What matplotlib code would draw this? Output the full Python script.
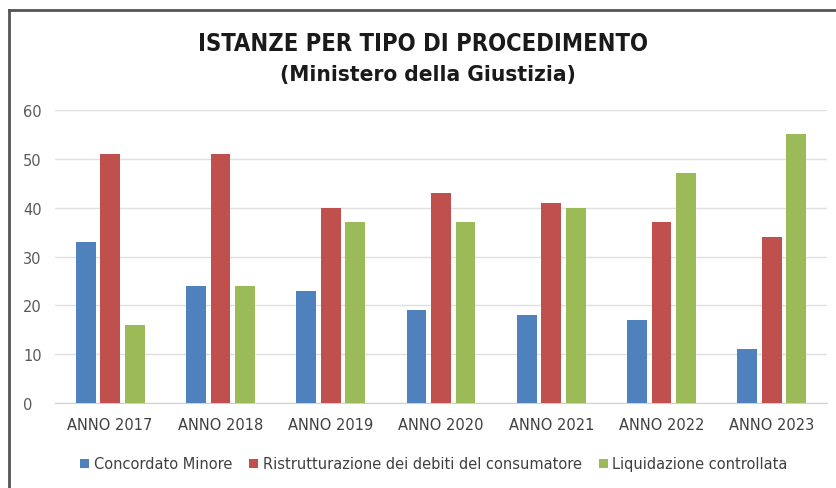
import matplotlib
matplotlib.use("Agg")
import matplotlib.pyplot as plt
import numpy as np
from matplotlib.lines import Line2D

categories = ["ANNO 2017", "ANNO 2018", "ANNO 2019", "ANNO 2020", "ANNO 2021", "ANNO 2022", "ANNO 2023"]
concordato = [33, 24, 23, 19, 18, 17, 11]
ristrutturazione = [51, 51, 40, 43, 41, 37, 34]
liquidazione = [16, 24, 37, 37, 40, 47, 55]
series_names = ["Concordato Minore", "Ristrutturazione dei debiti del consumatore", "Liquidazione controllata"]
yticks = [0, 10, 20, 30, 40, 50, 60]

colors = ["#4f81bd", "#c0504d", "#9bbb59"]

W, H = 836, 489
fig = plt.figure(figsize=(W / 100, H / 100), dpi=100)
ax = fig.add_axes([55 / W, 1 - 404 / H, (827 - 55) / W, (404 - 111) / H])

x = np.arange(len(categories))
width = 0.18
step = 0.222
for i, (vals, name) in enumerate(zip([concordato, ristrutturazione, liquidazione], series_names)):
    ax.bar(x + (i - 1) * step, vals, width, color=colors[i], label=name, zorder=3)

ax.set_ylim(0, 60)
ax.set_xlim(-0.5, len(categories) - 0.5)
ax.set_yticks(yticks)
ax.set_xticks(x)
ax.set_xticklabels(categories)
ax.grid(axis="y", color="#e0e0e0", linewidth=1, zorder=0)
for s in ["top", "right", "left"]:
    ax.spines[s].set_visible(False)
ax.spines["bottom"].set_color("#d0d0d0")
ax.tick_params(axis="both", length=0, colors="#404040", labelsize=10.5)
ax.tick_params(axis="x", pad=10)
ax.tick_params(axis="y", pad=23)
for lab in ax.get_yticklabels():
    lab.set_horizontalalignment("left")
    lab.set_color("#5a5a5a")

fig.text(423 / W, 1 - 44 / H, "ISTANZE PER TIPO DI PROCEDIMENTO", ha="center", va="center",
         fontsize=17, fontweight="bold", color="#1a1a1a", fontstretch="condensed")
fig.text(428 / W, 1 - 75 / H, "(Ministero della Giustizia)", ha="center", va="center",
         fontsize=16.2, fontweight="bold", color="#1a1a1a", fontstretch="condensed")

leg = fig.legend(loc="center", bbox_to_anchor=(434 / W, 1 - 465 / H), ncol=3, frameon=False,
                 fontsize=10.5, handlelength=0.6, handleheight=0.6, handletextpad=0.3,
                 columnspacing=1.2)
for t in leg.get_texts():
    t.set_color("#404040")

fig.add_artist(Line2D([8.5 / W, 8.5 / W], [0, 1 - 10.5 / H], color="#555555", linewidth=2))
fig.add_artist(Line2D([8.5 / W, 1], [1 - 10.5 / H, 1 - 10.5 / H], color="#555555", linewidth=2))

fig.savefig("out.png", dpi=100)
